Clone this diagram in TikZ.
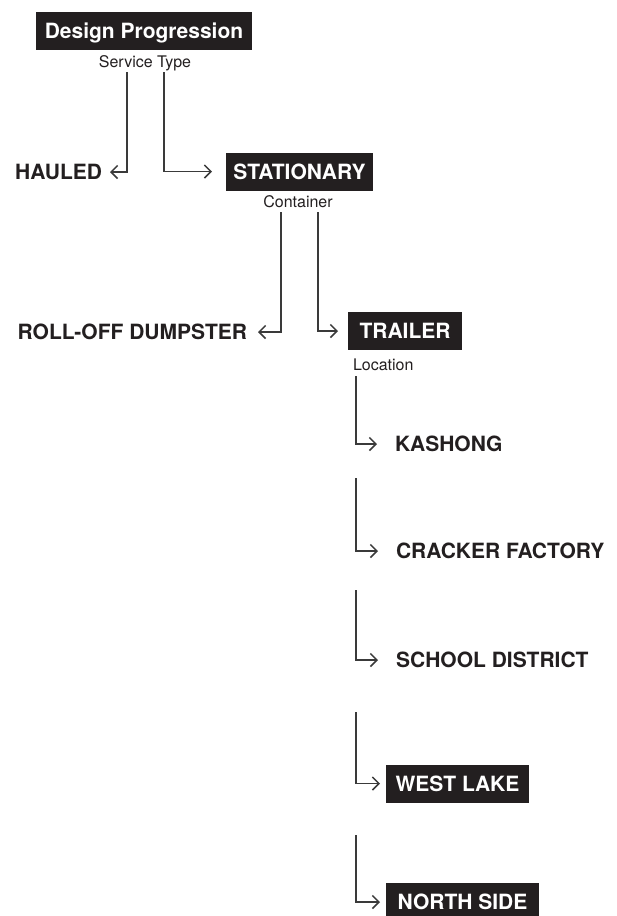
\documentclass[tikz,border=0pt]{standalone}
\usepackage{fontspec}
\setmainfont{TeX Gyre Heros}
\usetikzlibrary{arrows.meta}
\definecolor{ink}{HTML}{231F20}
\definecolor{wire}{HTML}{3A3A3A}
\begin{document}
\begin{tikzpicture}[x=1pt,y=-1pt,
  box/.style={fill=ink, text=white, font=\bfseries\fontsize{21}{24}\selectfont, inner sep=0pt, outer sep=0pt, minimum height=38pt, text height=15pt, text depth=0pt, anchor=west},
  lab/.style={text=ink, font=\bfseries\fontsize{21}{24}\selectfont, inner sep=0pt, outer sep=0pt, text height=15pt, text depth=0pt},
  sub/.style={text=ink, font=\fontsize{16}{18}\selectfont, inner sep=0pt, outer sep=0pt},
  conn/.style={draw=wire, line width=1.5pt, line join=miter, -{Straight Barb[length=6.5pt,width=13pt]}}
]
\useasboundingbox (0,0) rectangle (617,916);
\fill[white] (0,0) rectangle (617,916);

% nodes
\node[box, minimum width=216pt, anchor=center] (dp) at (144,31) {Design Progression};
\node[sub] (svc) at (145,63) {Service Type};
\node[lab, anchor=east] (hauled) at (102,172) {HAULED};
\node[box, minimum width=147pt, anchor=center] (stat) at (299.5,171.5) {STATIONARY};
\node[sub] (cont) at (298,202) {Container};
\node[lab, anchor=east] (roll) at (247,332) {ROLL-OFF DUMPSTER};
\node[box, minimum width=114pt] (trailer) at (348,331) {TRAILER};
\node[sub, anchor=west] (loc) at (353,365) {Location};
\node[lab, anchor=west] (kas) at (395,444) {KASHONG};
\node[lab, anchor=west] (crk) at (396,551) {CRACKER FACTORY};
\node[lab, anchor=west] (sch) at (396,660) {SCHOOL DISTRICT};
\node[box, minimum width=143pt] (wl) at (386,783.5) {WEST LAKE};
\node[box, minimum width=153pt] (ns) at (386,902) {NORTH SIDE};

% free ends of connectors
\coordinate (a1) at (127,72);
\coordinate (a2) at (164,72);
\coordinate (b1) at (281,212);
\coordinate (b2) at (318,212);
\coordinate (c1) at (356,376);
\coordinate (c2) at (356,478);
\coordinate (c3) at (356,590);
\coordinate (c4) at (356,712);
\coordinate (c5) at (356,835);

% connectors
\draw[conn, shorten >=8pt] (a1) |- (hauled.east);
\draw[conn, shorten >=14pt] (a2) |- (stat.west);
\draw[conn, shorten >=11pt] (b1) |- (roll.east);
\draw[conn, shorten >=10pt] (b2) |- (trailer.west);
\draw[conn, shorten >=18pt] (c1) |- (kas.west);
\draw[conn, shorten >=18pt] (c2) |- (crk.west);
\draw[conn, shorten >=18pt] (c3) |- (sch.west);
\draw[conn, shorten >=6pt] (c4) |- (wl.west);
\draw[conn, shorten >=6pt] (c5) |- (ns.west);
\end{tikzpicture}
\end{document}
